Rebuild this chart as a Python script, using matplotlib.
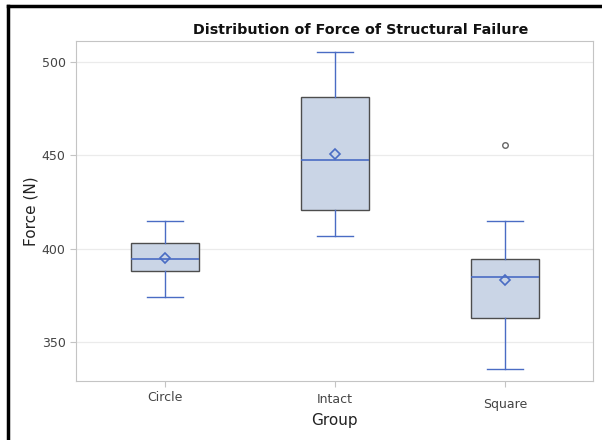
import matplotlib.pyplot as plt
import matplotlib.transforms as mtransforms
from matplotlib.lines import Line2D

# data
groups = ["Circle", "Intact", "Square"]
whislo = [374.3, 407.0, 335.7]
q1 = [388.2, 420.9, 363.0]
med = [394.6, 447.6, 385.0]
q3 = [403.2, 481.3, 394.6]
whishi = [415.0, 505.4, 415.0]
means = [395.0, 450.5, 382.9]
outliers = [[], [], [455.4]]

blue = "#4A6CC4"
fill = "#CAD5E6"

stats = []
for i, g in enumerate(groups):
    stats.append({"label": g, "whislo": whislo[i], "q1": q1[i], "med": med[i],
                  "q3": q3[i], "whishi": whishi[i], "mean": means[i],
                  "fliers": outliers[i]})

fig = plt.figure(figsize=(6.02, 4.40), dpi=100)
ax = fig.add_axes([76 / 602, 1 - 381 / 440, 517 / 602, 340 / 440])

ax.bxp(stats, positions=[1, 2, 3], widths=0.4, patch_artist=True, showmeans=True,
       boxprops=dict(facecolor=fill, edgecolor="#4d4d4d", linewidth=1.0),
       medianprops=dict(color=blue, linewidth=1.2),
       whiskerprops=dict(color=blue, linewidth=1.0),
       capprops=dict(color=blue, linewidth=1.0),
       capwidths=0.21,
       meanprops=dict(marker="D", markerfacecolor="none", markeredgecolor=blue,
                      markersize=5.5, markeredgewidth=1.2),
       flierprops=dict(marker="o", markerfacecolor="none", markeredgecolor="#666666",
                       markersize=4, markeredgewidth=1.0))

ax.set_xlim(0.476, 3.518)
ax.set_ylim(329, 511.3)
ax.set_yticks([350, 400, 450, 500])
ax.yaxis.grid(True, color="#ebebeb", linewidth=0.9)
ax.set_axisbelow(True)

for s in ax.spines.values():
    s.set_color("#c4c4c4")
ax.tick_params(axis="both", colors="#c4c4c4", labelcolor="#444444", labelsize=9, length=4)
ax.set_xticks([1, 2, 3])
ax.set_xticklabels(groups)

# slight vertical stagger of category labels as in the reference
offsets = [0, -1, -5]
for lbl, dy in zip(ax.get_xticklabels(), offsets):
    lbl.set_transform(lbl.get_transform() + mtransforms.ScaledTranslation(0, dy / 72, fig.dpi_scale_trans))

ax.set_ylabel("Force (N)", fontsize=11, color="#222222", labelpad=2)
ax.set_xlabel("Group", fontsize=11, color="#222222", labelpad=1)

fig.text(361 / 602, 1 - 30 / 440, "Distribution of Force of Structural Failure",
         ha="center", va="center", fontsize=10.3, fontweight="bold", color="#111111")

# screenshot frame on the left and top
fig.add_artist(Line2D([8 / 602, 8 / 602], [0, 1 - 6 / 440], color="black", linewidth=2.5,
                      transform=fig.transFigure))
fig.add_artist(Line2D([8 / 602, 1], [1 - 6 / 440, 1 - 6 / 440], color="black", linewidth=2.5,
                      transform=fig.transFigure))

fig.savefig("out.png", dpi=100)
